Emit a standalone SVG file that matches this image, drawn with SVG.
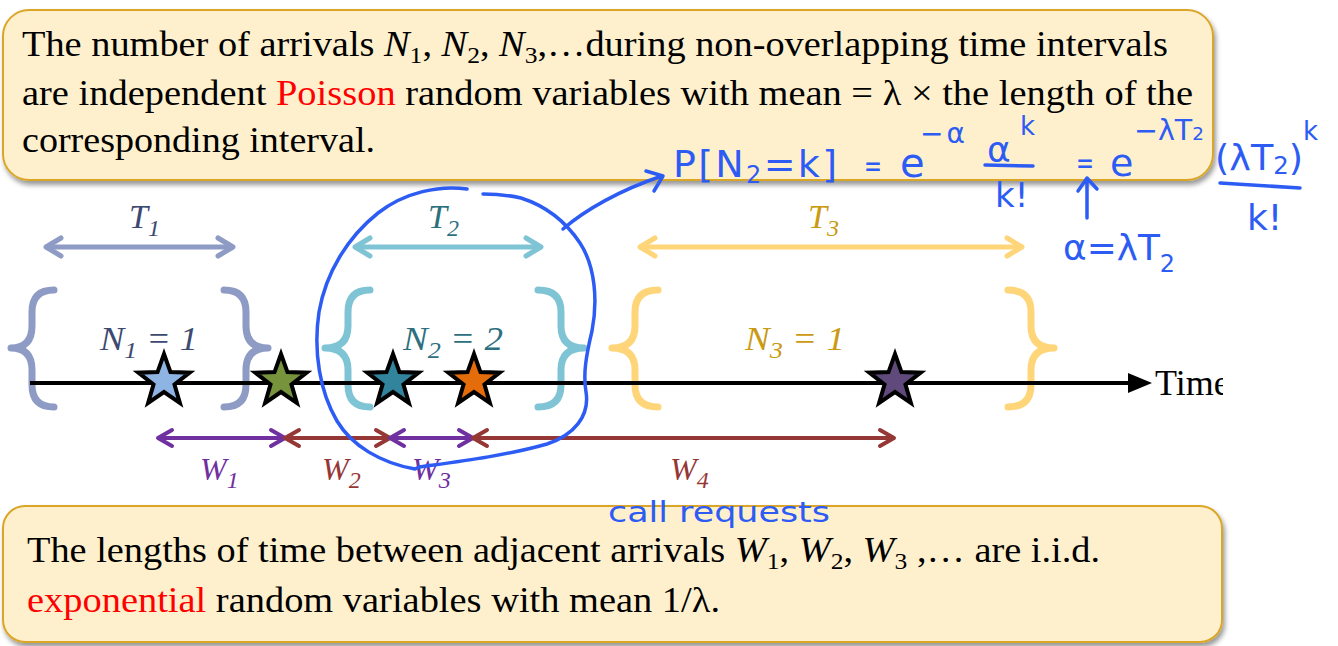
<svg xmlns="http://www.w3.org/2000/svg" width="1338" height="646" viewBox="0 0 1338 646">
<defs>
<style>
.box{fill:#FFF0CD;stroke:#DBA628;stroke-width:2;filter:url(#sh)}
.txt{font-family:"Liberation Serif","Times New Roman",serif;font-size:36px;fill:#000}
.red{fill:#FF0000}
.sub{font-size:24px}
.lab{font-family:"Liberation Serif","Times New Roman",serif;font-style:italic;font-size:34px}
.wl{font-family:"Liberation Serif","Times New Roman",serif;font-style:italic;font-size:32px}
.hw{font-family:"DejaVu Sans",sans-serif;fill:#2D5CF5}
.ink{fill:none;stroke:#2D5CF5;stroke-width:3.5;stroke-linecap:round;stroke-linejoin:round}
.brace{fill:none;stroke-width:7;stroke-linecap:round;stroke-linejoin:round}
.star{stroke:#000;stroke-width:4;stroke-linejoin:miter}
.tarr{fill:none;stroke-width:5}
.warr{fill:none;stroke-width:4}
</style>
<filter id="sh" x="-5%" y="-10%" width="110%" height="130%"><feDropShadow dx="2" dy="4" stdDeviation="2.5" flood-color="#000" flood-opacity="0.4"/></filter>
<clipPath id="clipTime"><rect x="0" y="0" width="1223" height="646"/></clipPath>
<path id="star" d="M0,-27 L6.47,-8.9 L25.68,-8.34 L10.46,3.4 L15.87,21.84 L0,11 L-15.87,21.84 L-10.46,3.4 L-25.68,-8.34 L-6.47,-8.9 Z"/>
<marker id="mT1" markerUnits="userSpaceOnUse" viewBox="-20 -12 24 24" markerWidth="24" markerHeight="24" refX="0" refY="0" orient="auto-start-reverse"><path d="M-15,-9 L0,0 L-15,9" fill="none" stroke="#8E9CC5" stroke-width="5" stroke-linecap="round" stroke-linejoin="round"/></marker>
<marker id="mT2" markerUnits="userSpaceOnUse" viewBox="-20 -12 24 24" markerWidth="24" markerHeight="24" refX="0" refY="0" orient="auto-start-reverse"><path d="M-15,-9 L0,0 L-15,9" fill="none" stroke="#7FC4D5" stroke-width="5" stroke-linecap="round" stroke-linejoin="round"/></marker>
<marker id="mT3" markerUnits="userSpaceOnUse" viewBox="-20 -12 24 24" markerWidth="24" markerHeight="24" refX="0" refY="0" orient="auto-start-reverse"><path d="M-15,-9 L0,0 L-15,9" fill="none" stroke="#FFD57A" stroke-width="5" stroke-linecap="round" stroke-linejoin="round"/></marker>
<marker id="mWp" markerUnits="userSpaceOnUse" viewBox="-20 -12 24 24" markerWidth="24" markerHeight="24" refX="0" refY="0" orient="auto-start-reverse"><path d="M-14,-8 L0,0 L-14,8" fill="none" stroke="#7030A0" stroke-width="4" stroke-linecap="round" stroke-linejoin="round"/></marker>
<marker id="mWr" markerUnits="userSpaceOnUse" viewBox="-20 -12 24 24" markerWidth="24" markerHeight="24" refX="0" refY="0" orient="auto-start-reverse"><path d="M-14,-8 L0,0 L-14,8" fill="none" stroke="#953735" stroke-width="4" stroke-linecap="round" stroke-linejoin="round"/></marker>
</defs>
<rect width="1338" height="646" fill="#FFFFFF"/>

<g id="top-box">
<rect class="box" x="3" y="10" width="1210" height="170" rx="26" ry="26"/>
<text class="txt" x="22" y="56" textLength="1146" lengthAdjust="spacingAndGlyphs">The number of arrivals <tspan font-style="italic">N</tspan><tspan class="sub" dy="7">1</tspan><tspan dy="-7">, </tspan><tspan font-style="italic">N</tspan><tspan class="sub" dy="7">2</tspan><tspan dy="-7">, </tspan><tspan font-style="italic">N</tspan><tspan class="sub" dy="7">3</tspan><tspan dy="-7">,…during non-overlapping time intervals</tspan></text>
<text class="txt" x="22" y="105" textLength="1171" lengthAdjust="spacingAndGlyphs">are independent <tspan class="red">Poisson</tspan> random variables with mean = λ × the length of the</text>
<text class="txt" x="22" y="152" textLength="353" lengthAdjust="spacingAndGlyphs">corresponding interval.</text>
</g>

<g id="bottom-box">
<rect class="box" x="3" y="506" width="1219" height="136" rx="22" ry="22"/>
<text class="txt" x="27" y="562" textLength="1073" lengthAdjust="spacingAndGlyphs">The lengths of time between adjacent arrivals <tspan font-style="italic">W</tspan><tspan class="sub" dy="7">1</tspan><tspan dy="-7">, </tspan><tspan font-style="italic">W</tspan><tspan class="sub" dy="7">2</tspan><tspan dy="-7">, </tspan><tspan font-style="italic">W</tspan><tspan class="sub" dy="7">3</tspan><tspan dy="-7"> ,… are i.i.d.</tspan></text>
<text class="txt" x="27" y="612" textLength="693" lengthAdjust="spacingAndGlyphs"><tspan class="red">exponential</tspan> random variables with mean 1/λ.</text>
</g>

<g id="intervals">
<g id="T1">
<path class="tarr" d="M46,247 H233" stroke="#8E9CC5" marker-start="url(#mT1)" marker-end="url(#mT1)"/>
<text class="lab" x="129" y="228" fill="#3C4A72">T<tspan class="sub" dy="8">1</tspan></text>
</g>
<g id="T2">
<path class="tarr" d="M355,247 H541" stroke="#7FC4D5" marker-start="url(#mT2)" marker-end="url(#mT2)"/>
<text class="lab" x="428" y="228" fill="#2C7080">T<tspan class="sub" dy="8">2</tspan></text>
</g>
<g id="T3">
<path class="tarr" d="M640,247 H1022" stroke="#FFD57A" marker-start="url(#mT3)" marker-end="url(#mT3)"/>
<text class="lab" x="808" y="228" fill="#C99A12">T<tspan class="sub" dy="8">3</tspan></text>
</g>
</g>

<g id="braces">
<g id="N1">
<path class="brace" stroke="#8E9CC5" d="M54,290 Q32,290 32,312 L32,326 Q32,348 11,348 Q32,348 32,370 L32,385 Q32,407 54,407"/>
<path class="brace" stroke="#8E9CC5" d="M224,290 Q246,290 246,312 L246,326 Q246,348 268,348 Q246,348 246,370 L246,385 Q246,407 224,407"/>
<text class="lab" x="100" y="350" fill="#3C4A72" textLength="98" lengthAdjust="spacingAndGlyphs">N<tspan class="sub" dy="8">1</tspan><tspan dy="-8"> = 1</tspan></text>
</g>
<g id="N2">
<path class="brace" stroke="#7FC4D5" d="M370,290 Q348,290 348,312 L348,326 Q348,348 325,348 Q348,348 348,370 L348,385 Q348,407 370,407"/>
<path class="brace" stroke="#7FC4D5" d="M538,290 Q561,290 561,312 L561,326 Q561,348 584,348 Q561,348 561,370 L561,385 Q561,407 538,407"/>
<text class="lab" x="403" y="350" fill="#2C7080" textLength="100" lengthAdjust="spacingAndGlyphs">N<tspan class="sub" dy="8">2</tspan><tspan dy="-8"> = 2</tspan></text>
</g>
<g id="N3">
<path class="brace" stroke="#FFD57A" d="M658,290 Q635,290 635,312 L635,326 Q635,348 612,348 Q635,348 635,370 L635,385 Q635,407 658,407"/>
<path class="brace" stroke="#FFD57A" d="M1008,290 Q1031,290 1031,312 L1031,326 Q1031,348 1054,348 Q1031,348 1031,370 L1031,385 Q1031,407 1008,407"/>
<text class="lab" x="745" y="350" fill="#C99A12" textLength="100" lengthAdjust="spacingAndGlyphs">N<tspan class="sub" dy="8">3</tspan><tspan dy="-8"> = 1</tspan></text>
</g>
</g>

<g id="timeline">
<path d="M30,383 H1132" stroke="#000" stroke-width="4" fill="none"/>
<path d="M1128,373 L1152,383 L1128,393 Z" fill="#000"/>
<text class="txt" x="1155" y="395" clip-path="url(#clipTime)">Time</text>
</g>

<g id="arrivals">
<use href="#star" class="star" x="164" y="381" fill="#8EB4E3"/>
<use href="#star" class="star" x="281" y="381" fill="#77933C"/>
<use href="#star" class="star" x="393" y="381" fill="#31849B"/>
<use href="#star" class="star" x="474" y="381" fill="#E46C0A"/>
<use href="#star" class="star" x="895" y="381" fill="#604A7B"/>
</g>

<g id="connectors">
<path class="warr" d="M158,438 H285" stroke="#7030A0" marker-start="url(#mWp)" marker-end="url(#mWp)"/>
<path class="warr" d="M285,438 H390" stroke="#953735" marker-start="url(#mWr)" marker-end="url(#mWr)"/>
<path class="warr" d="M390,438 H473" stroke="#7030A0" marker-start="url(#mWp)" marker-end="url(#mWp)"/>
<path class="warr" d="M473,438 H894" stroke="#953735" marker-start="url(#mWr)" marker-end="url(#mWr)"/>
<text class="wl" x="200" y="480" fill="#7030A0">W<tspan class="sub" dy="8">1</tspan></text>
<text class="wl" x="322" y="480" fill="#953735">W<tspan class="sub" dy="8">2</tspan></text>
<text class="wl" x="412" y="480" fill="#7030A0">W<tspan class="sub" dy="8">3</tspan></text>
<text class="wl" x="670" y="480" fill="#953735">W<tspan class="sub" dy="8">4</tspan></text>
</g>

<g id="annotations">
<path class="ink" d="M467,189 C440,185 405,192 378,213 C348,237 326,272 319,312 C313,352 320,392 337,421 C352,446 381,463 415,469 L419,467 C455,462 505,456 547,444 C574,435 590,416 586,392 C583,374 586,356 592,331 C598,300 595,266 580,243 C566,222 546,206 521,198 C508,195 496,194 483,194"/>
<path class="ink" d="M563,229 C585,210 620,190 662,176 M646,171 L663,176 L654,191"/>
<text class="hw" x="673" y="177" font-size="38" textLength="164" lengthAdjust="spacing">P[N<tspan font-size="24" dy="6">2</tspan><tspan dy="-6">=k]</tspan></text>
<text class="hw" x="864" y="176" font-size="30" textLength="18" lengthAdjust="spacingAndGlyphs">=</text>
<text class="hw" x="900" y="177" font-size="40">e</text>
<text class="hw" x="920" y="143" font-size="28" textLength="45" lengthAdjust="spacing">−α</text>
<text class="hw" x="987" y="162" font-size="36">α</text>
<text class="hw" x="1020" y="135" font-size="26">k</text>
<path class="ink" d="M985,165 L1033,166"/>
<text class="hw" x="995" y="207" font-size="34">k!</text>
<text class="hw" x="1076" y="173" font-size="30" textLength="18" lengthAdjust="spacingAndGlyphs">=</text>
<text class="hw" x="1110" y="176" font-size="38">e</text>
<text class="hw" x="1134" y="140" font-size="28" textLength="70" lengthAdjust="spacingAndGlyphs">−λT<tspan font-size="18">2</tspan></text>
<text class="hw" x="1215" y="170" font-size="36" textLength="88" lengthAdjust="spacingAndGlyphs">(λT<tspan font-size="24" dy="4">2</tspan><tspan dy="-4">)</tspan></text>
<text class="hw" x="1303" y="140" font-size="26">k</text>
<path class="ink" d="M1220,183 L1300,188"/>
<text class="hw" x="1247" y="230" font-size="36">k!</text>
<path class="ink" d="M1087,218 L1087,179 M1078,191 L1087,178 L1097,189"/>
<text class="hw" x="1063" y="260" font-size="36" textLength="112" lengthAdjust="spacingAndGlyphs">α=λT<tspan font-size="24" dy="12">2</tspan></text>
<text class="hw" x="608" y="522" font-size="28" textLength="222" lengthAdjust="spacingAndGlyphs">call requests</text>
</g>
</svg>
